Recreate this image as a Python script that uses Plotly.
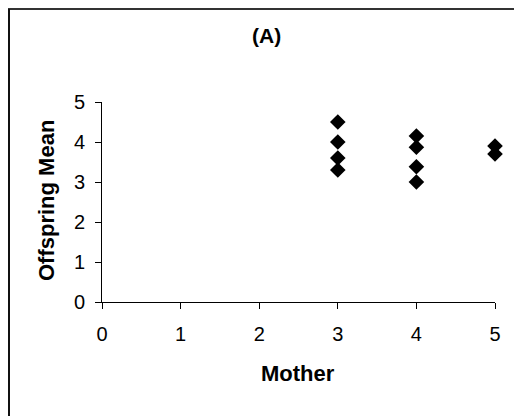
import plotly.graph_objects as go

mother = [3, 3, 3, 3, 4, 4, 4, 4, 5, 5]
offspring_mean = [4.5, 4.0, 3.6, 3.3, 4.15, 3.87, 3.38, 3.0, 3.9, 3.7]
x_ticks = [0, 1, 2, 3, 4, 5]
y_ticks = [0, 1, 2, 3, 4, 5]

# page offset (browser body margin)
OFF = 8
W, H = 522, 416
L, R, T, B = 102 - OFF, 522 - (495 - OFF), 102 - OFF, 416 - (302 - OFF)
pw, ph = W - L - R, H - T - B

def px_to_paper_x(px):
    return (px - OFF - L) / pw

def py_to_paper_y(py):
    return (H - B - (py - OFF)) / ph

fig = go.Figure()
fig.add_trace(go.Scatter(
    x=mother, y=offspring_mean, mode="markers",
    marker=dict(symbol="diamond", size=12, color="black"),
    cliponaxis=False, showlegend=False,
))

font = "Liberation Sans, Arial, sans-serif"
fig.update_layout(
    width=W, height=H,
    margin=dict(l=L, r=R, t=T, b=B),
    plot_bgcolor="white", paper_bgcolor="white",
    font=dict(family=font, color="black", size=20),
    xaxis=dict(range=[0, 5], tickvals=x_ticks, showgrid=False, zeroline=False,
               showline=True, linecolor="black", linewidth=1,
               ticks="outside", ticklen=6, tickcolor="black",
               tickfont=dict(size=20), ticklabelstandoff=8),
    yaxis=dict(range=[0, 5], tickvals=y_ticks, showgrid=False, zeroline=False,
               showline=True, linecolor="black", linewidth=1,
               ticks="outside", ticklen=6, tickcolor="black",
               tickfont=dict(size=20), ticklabelstandoff=6),
    annotations=[
        dict(text="<b>(A)</b>", x=px_to_paper_x(266), y=py_to_paper_y(35),
             xref="paper", yref="paper", showarrow=False,
             font=dict(size=21), xanchor="center", yanchor="middle"),
        dict(text="<b>Mother</b>", x=px_to_paper_x(298), y=py_to_paper_y(373),
             xref="paper", yref="paper", showarrow=False,
             font=dict(size=22), xanchor="center", yanchor="middle"),
        dict(text="<b>Offspring Mean</b>", x=px_to_paper_x(46), y=py_to_paper_y(201),
             xref="paper", yref="paper", showarrow=False, textangle=-90,
             font=dict(size=22), xanchor="center", yanchor="middle"),
    ],
    shapes=[
        dict(type="line", xref="paper", yref="paper",
             x0=px_to_paper_x(8), x1=px_to_paper_x(540),
             y0=py_to_paper_y(9), y1=py_to_paper_y(9),
             line=dict(color="#333333", width=2)),
        dict(type="line", xref="paper", yref="paper",
             x0=px_to_paper_x(9), x1=px_to_paper_x(9),
             y0=py_to_paper_y(9), y1=py_to_paper_y(440),
             line=dict(color="#111111", width=2)),
    ],
)

fig.write_html("out.html")
